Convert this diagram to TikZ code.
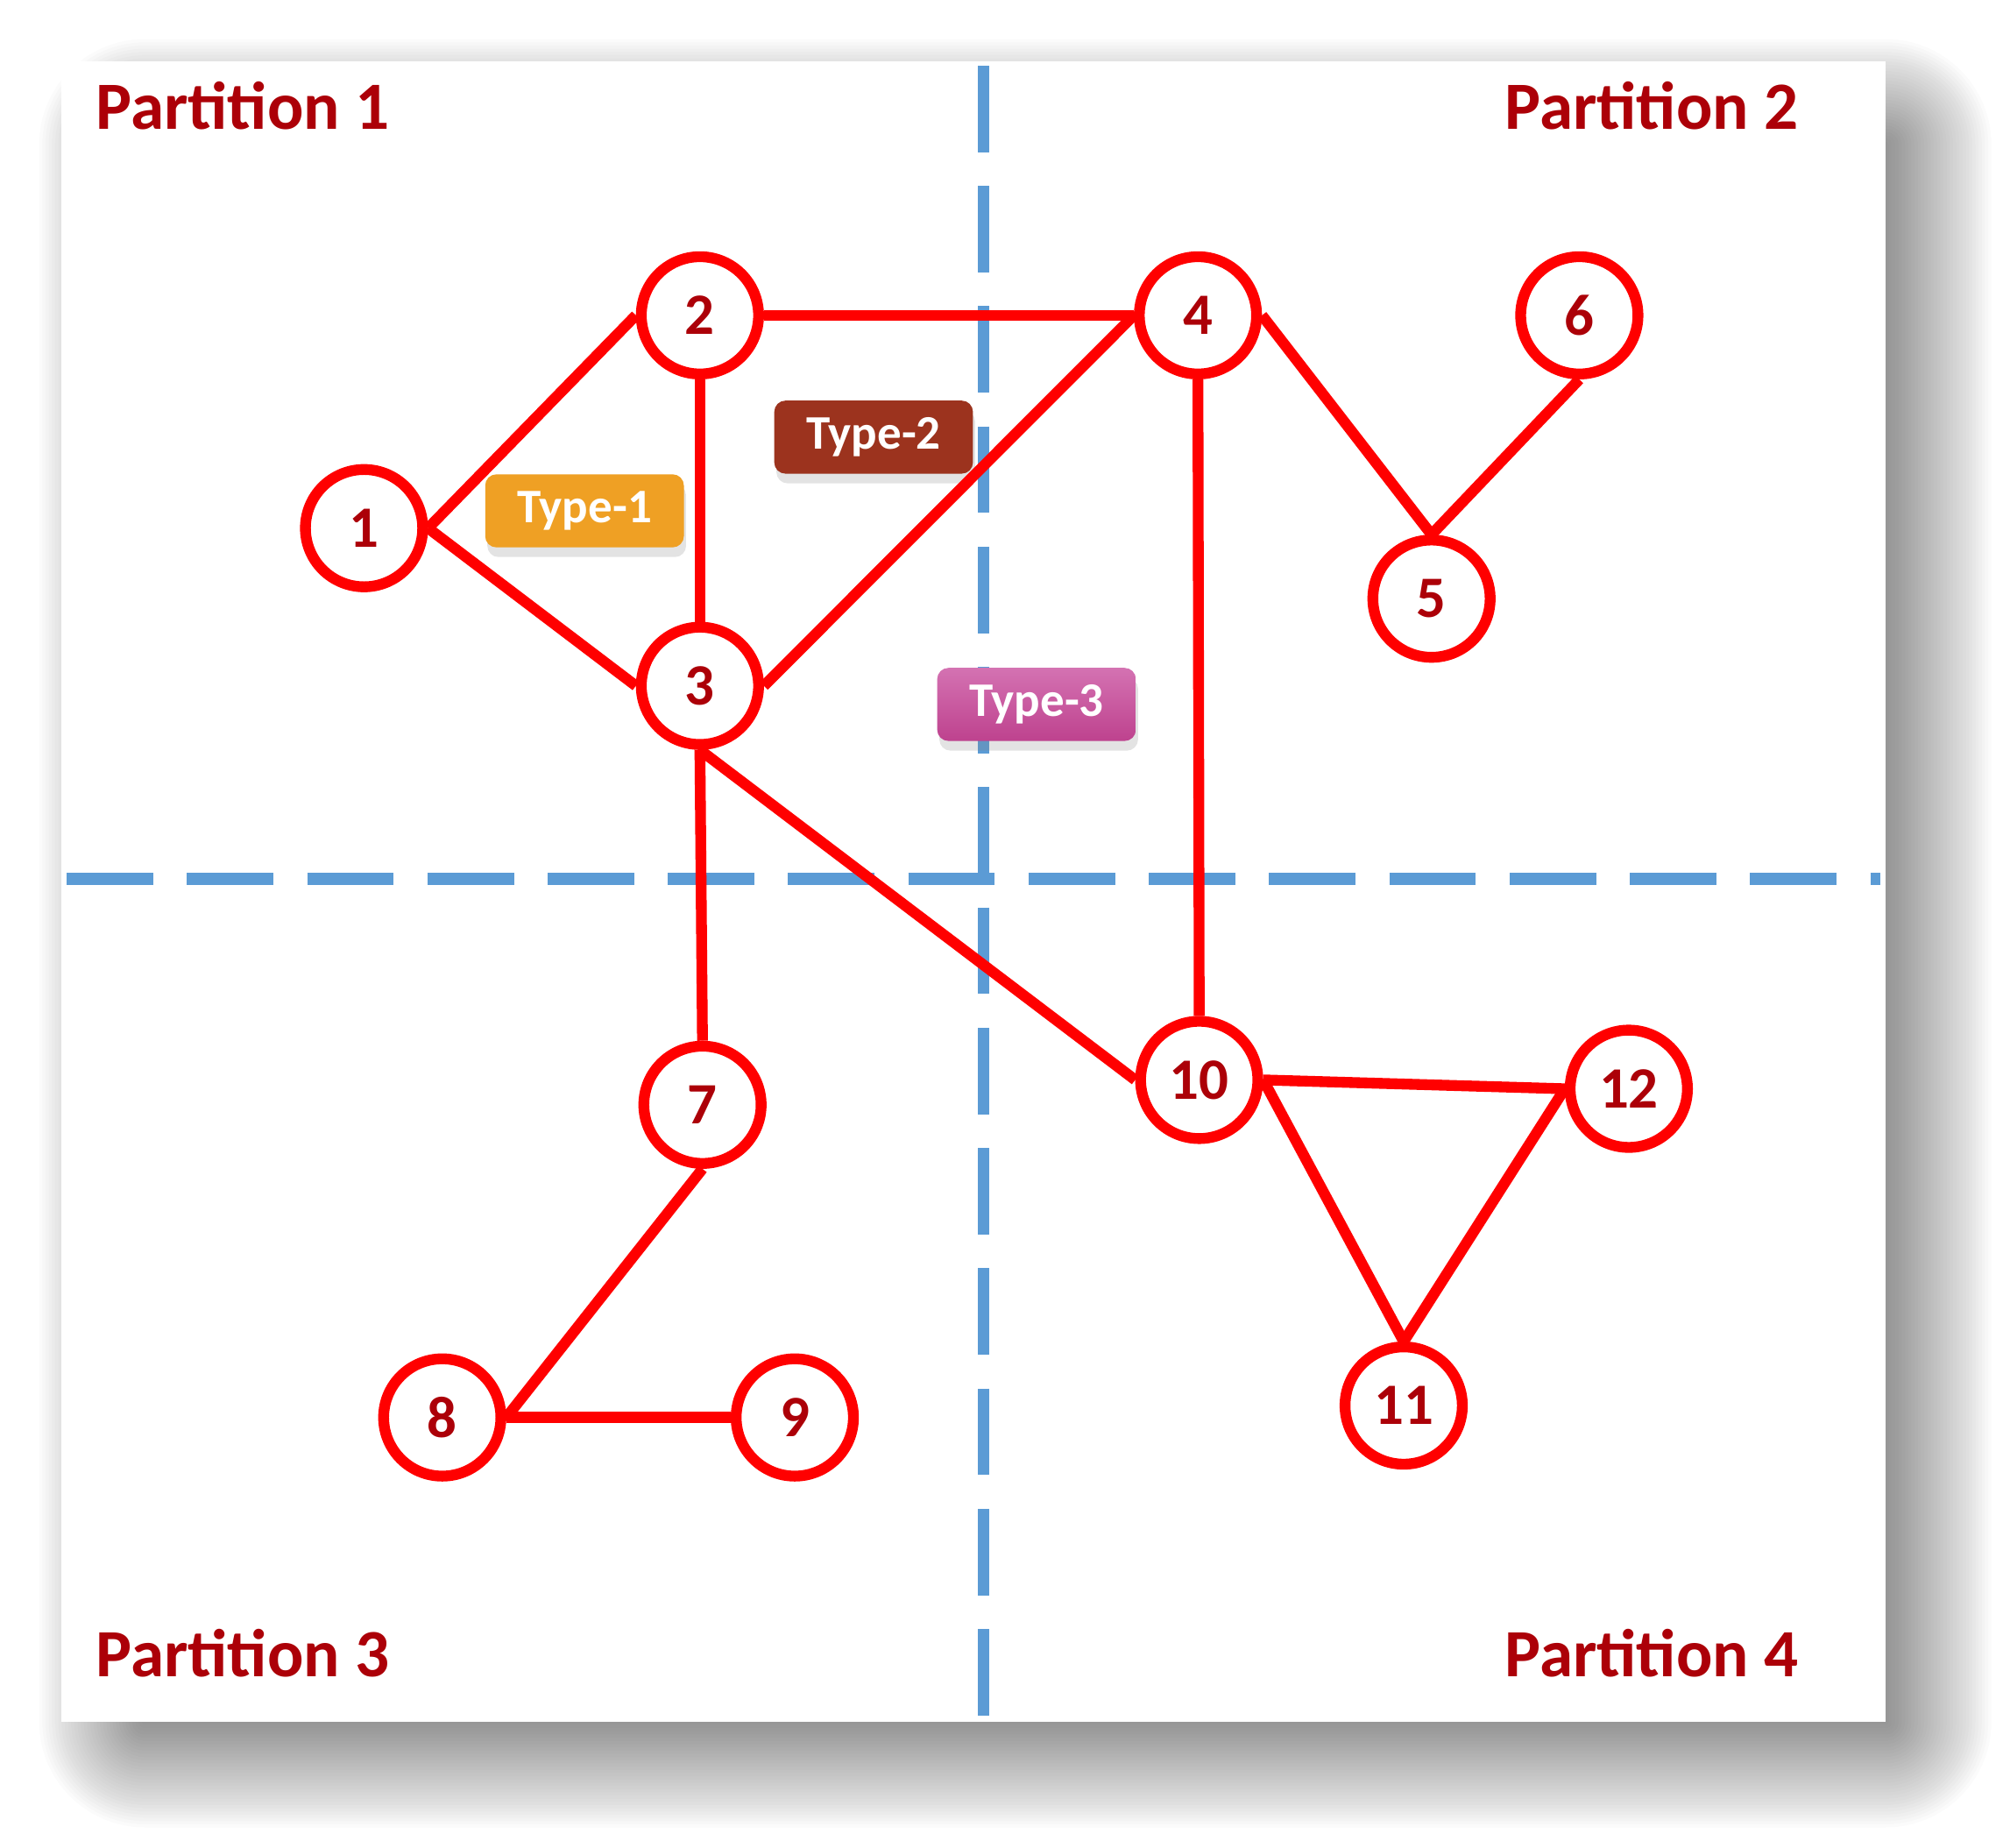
\documentclass[tikz,border=0pt]{standalone}
\usepackage{fontspec}
\setmainfont{Carlito}
\usetikzlibrary{shapes,shadows}

\definecolor{nodered}{RGB}{255,0,0}
\definecolor{darkred}{RGB}{172,0,8}
\definecolor{cutblue}{RGB}{91,155,213}
\definecolor{typeone}{RGB}{239,160,36}
\definecolor{typetwo}{RGB}{156,51,30}
\definecolor{typethreetop}{RGB}{212,114,178}
\definecolor{typethreebot}{RGB}{190,66,142}

\begin{document}
\begin{tikzpicture}[
semithick,
vertex/.style={draw=nodered, line width=2.4pt, fill=white, circle, minimum size=0.915cm, inner sep=0pt, text=darkred, font=\fontsize{13}{13}\selectfont\bfseries},
part/.style={text=darkred, inner sep=0pt, font=\fontsize{15}{15}\selectfont\bfseries},
tag/.style={rectangle, rounded corners=2.5pt, minimum width=1.55cm, minimum height=0.57cm, text=white, font=\fontsize{10.7}{10.7}\selectfont\bfseries, drop shadow={shadow xshift=0.1ex, shadow yshift=-0.45ex, opacity=0.22}},
link/.style={color=nodered, line width=2.4pt},
cut/.style={draw=cutblue, line width=2.6pt, dash pattern=on 0.675cm off 0.263cm}]

\useasboundingbox (0,0) rectangle (15.68,-14.415);

% soft shadow behind the sheet
\foreach \i [evaluate=\i as \r using \i*0.025] in {0,...,33}
 \fill[black, opacity=0.0154, rounded corners=\r cm] (1.13-\r, -1.13+\r) rectangle (14.71+\r, -13.43-\r);
\fill[white] (0.48,-0.48) rectangle (14.71,-13.43);

% partition borders
\draw[cut] (7.672,-0.513) -- (7.672,-13.43);
\draw[cut] (0.52,-6.856) -- (14.67,-6.856);

\node[part, anchor=base west] 		(P1) at (0.74,-1.007) 		{Partition 1};
\node[part, anchor=base east] 		(P2) at (14.04,-1.007) 		{Partition 2};
\node[part, anchor=base west] 		(P3) at (0.74,-13.076) 		{Partition 3};
\node[part, anchor=base east] 		(P4) at (14.04,-13.076) 		{Partition 4};

\node[tag, fill=typeone] 		(T1) at (4.56,-3.985) 		{Type-1};
\node[tag, fill=typetwo] 		(T2) at (6.815,-3.41) 		{Type-2};
\node[tag, top color=typethreetop, bottom color=typethreebot] 		(T3) at (8.086,-5.495) 		{Type-3};

\node[vertex] 		(1) at (2.84,-4.12) 		{1};
\node[vertex] 		(2) at (5.46,-2.46) 		{2};
\node[vertex] 		(3)[below of=2, yshift=-1.89cm] 		{3};
\node[vertex] 		(4)[right of=2, xshift=2.885cm] 		{4};
\node[vertex] 		(5) at (11.167,-4.67) 		{5};
\node[vertex] 		(6)[right of=4, xshift=1.975cm] 		{6};
\node[vertex] 		(7) at (5.48,-8.618) 		{7};
\node[vertex] 		(8) at (3.45,-11.057) 		{8};
\node[vertex] 		(9)[right of=8, xshift=1.75cm] 		{9};
\node[vertex] 		(10) at (9.355,-8.424) 		{10};
\node[vertex] 		(11) at (10.95,-10.964) 		{11};
\node[vertex] 		(12) at (12.706,-8.493) 		{12};

\path[link]
 (1.east) 		edge 		(2.west)
 (1.east) 		edge 		(3.west)
 (2.south) 		edge 		(3.north)
 (2.east) 		edge 		(4.west)
 (3.east) 		edge 		(4.west)
 (4.east) 		edge 		(5.north)
 (5.north) 		edge 		(6.south)
 (4.south) 		edge 		(10.north)
 (3.south) 		edge 		(10.west)
 (3.south) 		edge 		(7.north)
 (7.south) 		edge 		(8.east)
 (8.east) 		edge 		(9.west)
 (10.east) 		edge 		(12.west)
 (10.east) 		edge 		(11.north)
 (11.north) 		edge 		(12.west);

\end{tikzpicture}
\end{document}
